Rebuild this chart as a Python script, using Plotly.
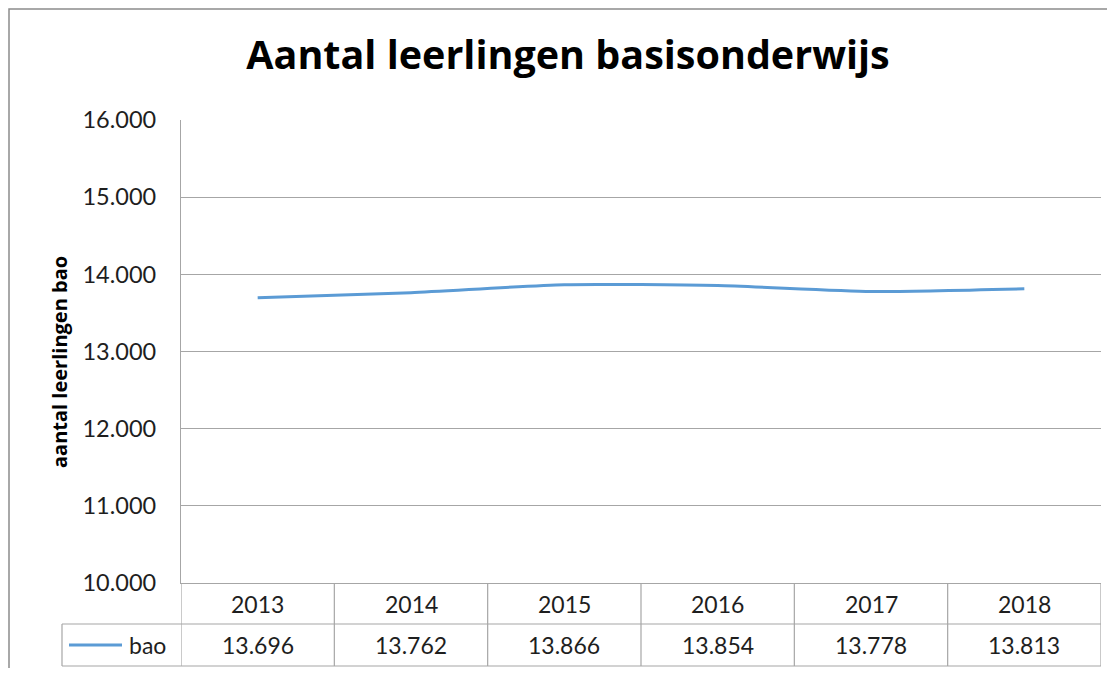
import plotly.graph_objects as go

years = ["2013", "2014", "2015", "2016", "2017", "2018"]
bao = [13696, 13762, 13866, 13854, 13778, 13813]
y_ticks = [10000, 11000, 12000, 13000, 14000, 15000, 16000]
y_tick_labels = ["10.000", "11.000", "12.000", "13.000", "14.000", "15.000", "16.000"]
value_labels = ["13.696", "13.762", "13.866", "13.854", "13.778", "13.813"]
title_text = "Aantal leerlingen basisonderwijs"
y_title = "aantal leerlingen bao"
series_name = "bao"

# the page body has an 8px margin; the figure is sized and placed to compensate
OFF = 8
W, H = 1105, 660
L, T = 181 - OFF, 120 - OFF
PLOT_R, PLOT_B = 1101 - OFF, 583 - OFF
R, B = W - PLOT_R, H - PLOT_B
pw, ph = PLOT_R - L, PLOT_B - T

def px(x):  # reference pixel x -> paper
    return (x - OFF - L) / pw

def py(y):  # reference pixel y -> paper
    return (PLOT_B - (y - OFF)) / ph

FONT = "Lato, Calibri, Arial, sans-serif"
BFONT = "'Open Sans', Calibri, Arial, sans-serif"
LINE_COL = "#5B9BD5"
GRID = "#a6a6a6"
TXT = "#1e1e1e"

xs = list(range(len(years)))
fig = go.Figure()
fig.add_trace(go.Scatter(x=xs, y=bao, mode="lines", name=series_name,
                         line=dict(color=LINE_COL, width=3, shape="spline", smoothing=0.6),
                         showlegend=False, hoverinfo="skip"))

shapes = []
# outer chart border
shapes.append(dict(type="rect", xref="paper", yref="paper", x0=px(9), x1=px(1130),
                   y0=py(700), y1=py(9), line=dict(color="#8c8c8c", width=1.5)))
row1 = py(624)
row2 = py(666)
lw = 1.2
shapes.append(dict(type="line", xref="paper", yref="paper", x0=0, x1=1, y0=row1, y1=row1,
                   line=dict(color=GRID, width=lw)))
shapes.append(dict(type="line", xref="paper", yref="paper", x0=px(62), x1=0, y0=row1, y1=row1,
                   line=dict(color=GRID, width=lw)))
shapes.append(dict(type="line", xref="paper", yref="paper", x0=px(62), x1=1, y0=row2, y1=row2,
                   line=dict(color=GRID, width=lw)))
shapes.append(dict(type="line", xref="paper", yref="paper", x0=px(62), x1=px(62), y0=row2, y1=row1,
                   line=dict(color=GRID, width=lw)))
for i in range(len(years) + 1):
    shapes.append(dict(type="line", xref="x", yref="paper", x0=i - 0.5, x1=i - 0.5,
                       y0=row2, y1=0, line=dict(color=GRID, width=lw)))
# legend key
shapes.append(dict(type="line", xref="paper", yref="paper", x0=px(69), x1=px(122),
                   y0=py(645), y1=py(645), line=dict(color=LINE_COL, width=3)))

annotations = []
for i, (yr, v) in enumerate(zip(years, value_labels)):
    annotations.append(dict(x=i, y=py(604), xref="x", yref="paper", text=yr, showarrow=False,
                            xanchor="center", yanchor="middle",
                            font=dict(family=FONT, size=23, color=TXT)))
    annotations.append(dict(x=i, y=py(645), xref="x", yref="paper", text=v, showarrow=False,
                            xanchor="center", yanchor="middle",
                            font=dict(family=FONT, size=23, color=TXT)))
annotations.append(dict(x=px(127), y=py(645), xref="paper", yref="paper", text=series_name,
                        showarrow=False, xanchor="left", yanchor="middle",
                        font=dict(family=FONT, size=23, color=TXT)))
annotations.append(dict(x=px(59), y=py(362), xref="paper", yref="paper", text="<b>" + y_title + "</b>",
                        showarrow=False, textangle=-90, xanchor="center", yanchor="middle",
                        font=dict(family=BFONT, size=20, color="#000")))

fig.update_layout(
    width=W, height=H,
    margin=dict(l=L, r=R, t=T, b=B, autoexpand=False),
    paper_bgcolor="white", plot_bgcolor="white",
    title=dict(text="<b>" + title_text + "</b>", x=(568 - OFF) / W, xanchor="center",
               y=1 - 47 / H, yanchor="middle",
               font=dict(family=BFONT, size=39.5, color="#000")),
    xaxis=dict(range=[-0.5, 5.5], showgrid=False, showticklabels=False, zeroline=False,
               showline=True, linecolor=GRID, linewidth=lw, fixedrange=True),
    yaxis=dict(range=[10000, 16000], tickvals=y_ticks, ticktext=y_tick_labels,
               showgrid=True, gridcolor=GRID, gridwidth=lw, zeroline=False,
               showline=True, linecolor=GRID, linewidth=lw, ticks="",
               ticklabelstandoff=19, tickfont=dict(family=FONT, size=23.5, color=TXT),
               fixedrange=True),
    shapes=shapes, annotations=annotations,
)
fig.write_html("out.html")
